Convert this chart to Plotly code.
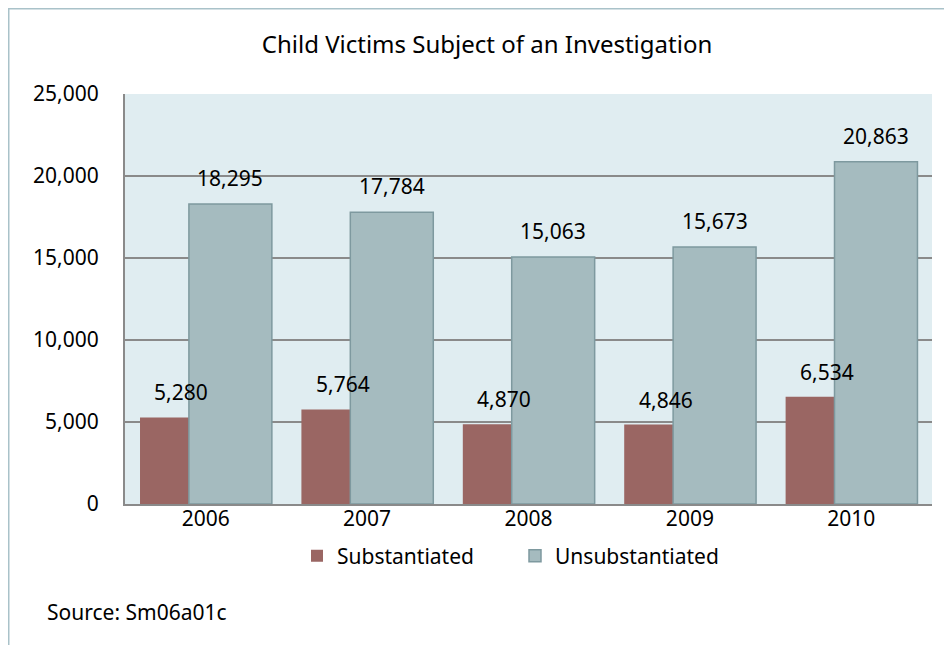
import plotly.graph_objects as go

years = ["2006", "2007", "2008", "2009", "2010"]
substantiated = [5280, 5764, 4870, 4846, 6534]
unsubstantiated = [18295, 17784, 15063, 15673, 20863]
y_ticks = [0, 5000, 10000, 15000, 20000, 25000]
y_tick_labels = ["0", "5,000", "10,000", "15,000", "20,000", "25,000"]

FONT = "Noto Sans"
FS = 21
x_idx = list(range(len(years)))
BW = 0.514
OFF_S = -0.407
OFF_U = -0.104

# page offset (browser body margin)
OFS = 8
W, H = 952 - OFS, 645 - OFS
L, T = 125 - OFS, 94 - OFS
R = W - (932 - OFS)
B = H - (504 - OFS)
pw, ph = W - L - R, H - T - B


def px(xp):
    return (xp - OFS - L) / pw


def py(yp):
    return (H - B - (yp - OFS)) / ph


fig = go.Figure()
fig.add_trace(go.Bar(
    x=x_idx, y=substantiated, name="Substantiated",
    width=BW, offset=OFF_S,
    marker=dict(color="#9A6663", line=dict(width=0)),
))
fig.add_trace(go.Bar(
    x=x_idx, y=unsubstantiated, name="Unsubstantiated",
    width=BW, offset=OFF_U,
    marker=dict(color="#A5BBBF", line=dict(color="#7E999F", width=1.5)),
))

annotations = []
for i, v in enumerate(substantiated):
    annotations.append(dict(x=i + OFF_S + BW / 2, y=v, text=f"{v:,}", showarrow=False,
                            yshift=25, font=dict(family=FONT, size=FS, color="#000")))
for i, v in enumerate(unsubstantiated):
    annotations.append(dict(x=i + OFF_U + BW / 2, y=v, text=f"{v:,}", showarrow=False,
                            yshift=26, font=dict(family=FONT, size=FS, color="#000")))
annotations.append(dict(xref="paper", yref="paper", x=px(45), y=py(612), xanchor="left",
                        yanchor="middle", text="Source: Sm06a01c", showarrow=False,
                        font=dict(family=FONT, size=FS, color="#000")))

shapes = [
    dict(type="line", xref="paper", yref="paper", x0=px(8.5), x1=px(8.5), y0=py(8), y1=py(660),
         line=dict(color="#A9C2C9", width=2)),
    dict(type="line", xref="paper", yref="paper", x0=px(8), x1=px(970), y0=py(8.5), y1=py(8.5),
         line=dict(color="#A9C2C9", width=2)),
]

fig.update_layout(
    width=W, height=H,
    margin=dict(l=L, r=R, t=T, b=B),
    barmode="overlay",
    paper_bgcolor="white",
    plot_bgcolor="#E0EDF1",
    title=dict(text="Child Victims Subject of an Investigation", x=px(487), xref="paper",
               xanchor="center", y=1 - (45 - OFS) / H, yanchor="middle",
               font=dict(family=FONT, size=24, color="#000")),
    font=dict(family=FONT, size=FS, color="#000"),
    xaxis=dict(tickvals=x_idx, ticktext=years, range=[-0.5, len(years) - 0.5],
               showgrid=False, showline=True, linecolor="#8A8A8A", linewidth=2,
               ticks="", zeroline=False, tickfont=dict(size=FS), ticklabelstandoff=-5),
    yaxis=dict(range=[0, 25000], tickvals=y_ticks, ticktext=y_tick_labels,
               showgrid=True, gridcolor="#8A8A8A", gridwidth=1.5,
               showline=True, linecolor="#8A8A8A", linewidth=2, zeroline=False,
               ticks="", ticklabelstandoff=20, tickfont=dict(size=FS)),
    legend=dict(orientation="h", x=px(515), xanchor="center", y=py(556), yanchor="middle",
                font=dict(size=FS), itemwidth=30, traceorder="normal",
                entrywidth=173, entrywidthmode="pixels"),
    showlegend=True,
    annotations=annotations,
    shapes=shapes,
)

fig.write_html("out.html")
